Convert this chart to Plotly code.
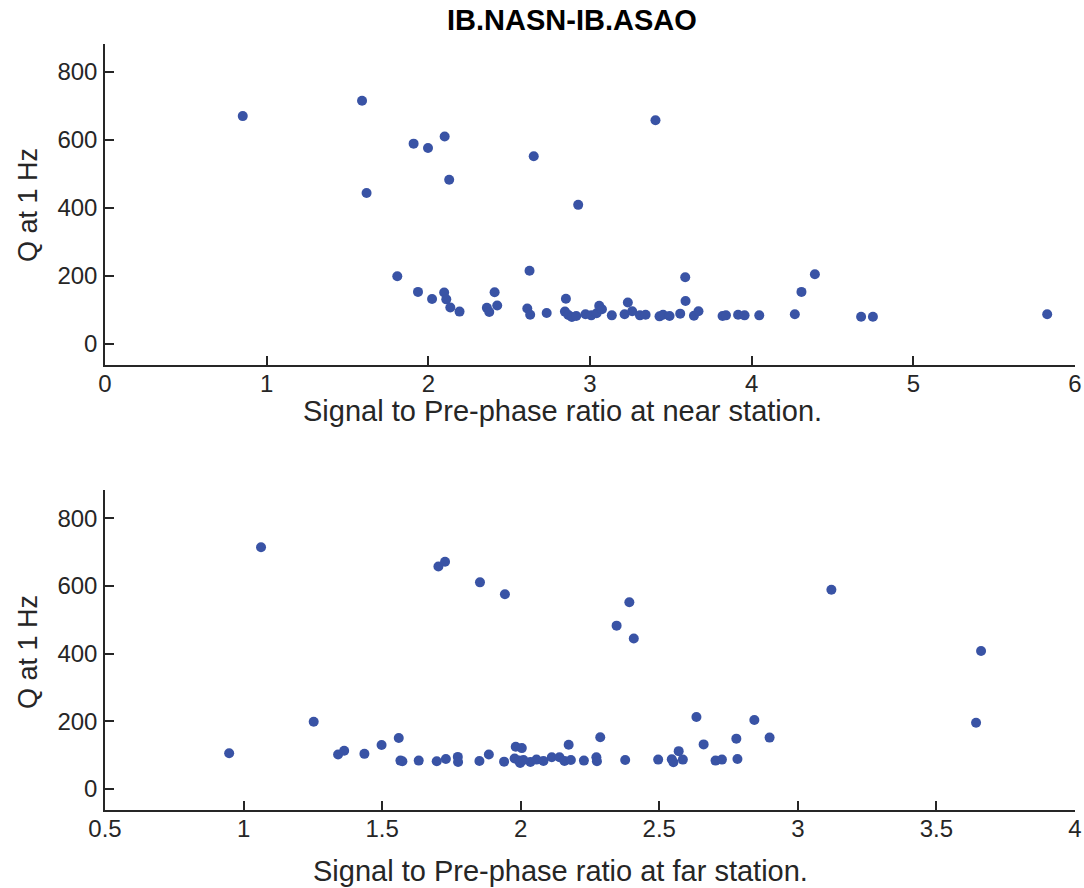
import plotly.graph_objects as go

title_text = "IB.NASN-IB.ASAO"
xlabel_near = "Signal to Pre-phase ratio at near station."
xlabel_far = "Signal to Pre-phase ratio at far station."
ylabel = "Q at 1 Hz"

near_ratio = [0.852, 1.59, 1.618, 1.808, 1.909, 1.936, 1.998, 2.023, 2.101, 2.098,
              2.111, 2.129, 2.136, 2.193, 2.362, 2.377, 2.410, 2.426, 2.612, 2.626,
              2.630, 2.652, 2.732, 2.845, 2.851, 2.866, 2.888, 2.915, 2.927, 2.972,
              3.008, 3.041, 3.057, 3.074, 3.135, 3.214, 3.234, 3.261, 3.309, 3.344,
              3.405, 3.430, 3.452, 3.492, 3.558, 3.589, 3.591, 3.643, 3.671, 3.820,
              3.841, 3.916, 3.956, 4.047, 4.267, 4.308, 4.391, 4.677, 4.750, 5.828]
near_q = [670, 715, 444, 199, 589, 153, 576, 132, 610, 151,
          131, 483, 107, 95, 106, 94, 152, 113, 104, 215,
          86, 552, 91, 95, 133, 85, 79, 82, 409, 87,
          84, 90, 112, 102, 84, 87, 122, 96, 84, 86,
          658, 81, 86, 82, 89, 196, 126, 83, 96, 82,
          84, 86, 84, 84, 87, 153, 205, 80, 80, 87]

far_ratio = [0.948, 1.063, 1.253, 1.341, 1.363, 1.436, 1.498, 1.560, 1.566, 1.573,
             1.632, 1.697, 1.703, 1.727, 1.730, 1.773, 1.774, 1.851, 1.853, 1.885,
             1.940, 1.943, 1.982, 2.004, 1.978, 1.994, 1.998, 2.035, 2.057, 2.082,
             2.112, 2.140, 2.158, 2.173, 2.181, 2.228, 2.273, 2.275, 2.287, 2.346,
             2.377, 2.392, 2.408, 2.496, 2.545, 2.551, 2.570, 2.585, 2.634, 2.660,
             2.703, 2.726, 2.778, 2.782, 2.843, 2.898, 3.121, 3.643, 3.661, 2.010]
far_q = [106, 715, 199, 102, 113, 104, 130, 151, 84, 82,
         84, 82, 658, 672, 89, 95, 80, 83, 611, 102,
         81, 576, 125, 121, 90, 84, 77, 80, 87, 83,
         94, 94, 83, 131, 86, 84, 94, 82, 153, 483,
         86, 552, 445, 87, 88, 79, 112, 87, 213, 132,
         84, 87, 149, 89, 204, 152, 589, 196, 408, 86]

x_ticks_near = [0, 1, 2, 3, 4, 5, 6]
x_ticks_far = [0.5, 1, 1.5, 2, 2.5, 3, 3.5, 4]
y_ticks = [0, 200, 400, 600, 800]

MARK = "#3953a5"
AX = "#262626"
FONT = "Liberation Sans, Arial, sans-serif"

W, H = 1084, 888
L, R, T, B = 105, 9, 44, 78
PW, PH = W - L - R, H - T - B


def px_x(px):
    return (px - L) / PW


def px_y(py):
    return (H - B - py) / PH


fig = go.Figure()
fig.add_trace(go.Scatter(x=near_ratio, y=near_q, mode="markers", xaxis="x", yaxis="y",
                         marker=dict(size=10, color=MARK, line=dict(width=0)), showlegend=False))
fig.add_trace(go.Scatter(x=far_ratio, y=far_q, mode="markers", xaxis="x2", yaxis="y2",
                         marker=dict(size=10, color=MARK, line=dict(width=0)), showlegend=False))

common_axis = dict(showline=True, linecolor=AX, linewidth=1.5, ticks="inside", ticklen=9,
                   tickwidth=1.5, tickcolor=AX, showgrid=False, zeroline=False,
                   tickfont=dict(family=FONT, size=24, color=AX), mirror=False,
                   automargin=False, ticklabelstandoff=-4)

fig.update_layout(
    width=W, height=H,
    margin=dict(l=L, r=R, t=T, b=B),
    plot_bgcolor="white", paper_bgcolor="white",
    xaxis=dict(common_axis, domain=[0, 1], range=[0, 6], tickvals=x_ticks_near, anchor="y"),
    yaxis=dict(common_axis, domain=[px_y(365), 1], range=[-62, 882], tickvals=y_ticks,
               anchor="x", ticklabelstandoff=1),
    xaxis2=dict(common_axis, domain=[0, 1], range=[0.5, 4], tickvals=x_ticks_far,
                ticktext=["0.5", "1", "1.5", "2", "2.5", "3", "3.5", "4"], anchor="y2"),
    yaxis2=dict(common_axis, domain=[0, px_y(490)], range=[-62, 884], tickvals=y_ticks,
                anchor="x2", ticklabelstandoff=1),
)

ann_font = dict(family=FONT, size=29, color=AX)
yl_font = dict(family=FONT, size=27, color=AX)
anns = [
    dict(text="<b>" + title_text + "</b>", x=px_x(572), y=px_y(20),
         font=dict(family=FONT, size=29, color="black")),
    dict(text=xlabel_near, x=px_x(562), y=px_y(411), font=ann_font),
    dict(text=xlabel_far, x=px_x(560), y=px_y(871), font=ann_font),
    dict(text=ylabel, x=px_x(28), y=px_y(205), font=yl_font, textangle=-90),
    dict(text=ylabel, x=px_x(28), y=px_y(652), font=yl_font, textangle=-90),
]
for a in anns:
    fig.add_annotation(xref="paper", yref="paper", xanchor="center", yanchor="middle",
                       showarrow=False, **a)

fig.write_html("out.html")
